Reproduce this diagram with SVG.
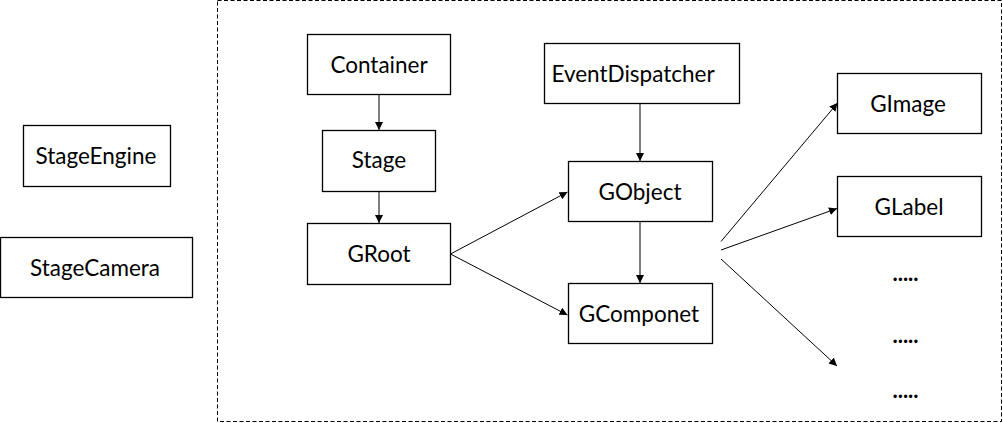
<svg xmlns="http://www.w3.org/2000/svg" width="1003" height="423" viewBox="0 0 1003 423">
<defs>
<marker id="ah" viewBox="0 0 10 10" refX="10" refY="5" markerWidth="8" markerHeight="8" markerUnits="userSpaceOnUse" orient="auto">
<path d="M0,0 L10,5 L0,10 z" fill="#000"/>
</marker>
</defs>
<style>
.box{fill:#fff;stroke:#000;stroke-width:1.3}
.lbl{font-family:Lato,"Noto Sans",sans-serif;font-size:22.5px;fill:#000;text-anchor:middle}
.dots{font-family:Lato,"Noto Sans",sans-serif;font-size:22px;font-weight:bold;fill:#000;text-anchor:middle}
.con{stroke:#000;stroke-width:1;fill:none;marker-end:url(#ah)}
</style>
<rect width="1003" height="423" fill="#fff"/>
<rect id="group" x="217.5" y="0.5" width="784" height="421" fill="none" stroke="#000" stroke-width="1" stroke-dasharray="4,2.5"/>
<g id="StageEngine"><rect class="box" x="23.5" y="125.5" width="147" height="61"/><text class="lbl" x="96" y="164">StageEngine</text></g>
<g id="StageCamera"><rect class="box" x="0.5" y="237.5" width="192" height="60"/><text class="lbl" x="95" y="276">StageCamera</text></g>
<g id="Container"><rect class="box" x="307.5" y="34.5" width="143" height="60"/><text class="lbl" x="379" y="72.5">Container</text></g>
<g id="Stage"><rect class="box" x="322.5" y="130.5" width="113" height="61"/><text class="lbl" x="379" y="168">Stage</text></g>
<g id="GRoot"><rect class="box" x="307.5" y="223.5" width="143" height="61"/><text class="lbl" x="379" y="262">GRoot</text></g>
<g id="EventDispatcher"><rect class="box" x="544.5" y="43.5" width="195" height="60"/><text class="lbl" x="633" y="81.5">EventDispatcher</text></g>
<g id="GObject"><rect class="box" x="568.5" y="161.5" width="144" height="60"/><text class="lbl" x="640" y="199.5">GObject</text></g>
<g id="GComponet"><rect class="box" x="568.5" y="283.5" width="144" height="60"/><text class="lbl" x="639" y="321.5">GComponet</text></g>
<g id="GImage"><rect class="box" x="837.5" y="73.5" width="144" height="60"/><text class="lbl" x="908" y="111.5">GImage</text></g>
<g id="GLabel"><rect class="box" x="837.5" y="176.5" width="144" height="60"/><text class="lbl" x="909" y="214.5">GLabel</text></g>
<g id="more1"><text class="dots" x="905.5" y="281">.....</text></g>
<g id="more2"><text class="dots" x="905.5" y="343">.....</text></g>
<g id="more3"><text class="dots" x="905.5" y="398">.....</text></g>
<g id="connectors">
<line class="con" x1="379" y1="95" x2="379" y2="130"/>
<line class="con" x1="379" y1="192" x2="379" y2="223"/>
<line class="con" x1="450.5" y1="254" x2="567.5" y2="192"/>
<line class="con" x1="450.5" y1="254" x2="567.5" y2="315"/>
<line class="con" x1="640" y1="104" x2="640" y2="161"/>
<line class="con" x1="640" y1="222" x2="640" y2="283"/>
<line class="con" x1="721" y1="241.5" x2="837.5" y2="103"/>
<line class="con" x1="721" y1="250" x2="837" y2="208.5"/>
<line class="con" x1="721" y1="259" x2="837" y2="366"/>
</g>
</svg>
